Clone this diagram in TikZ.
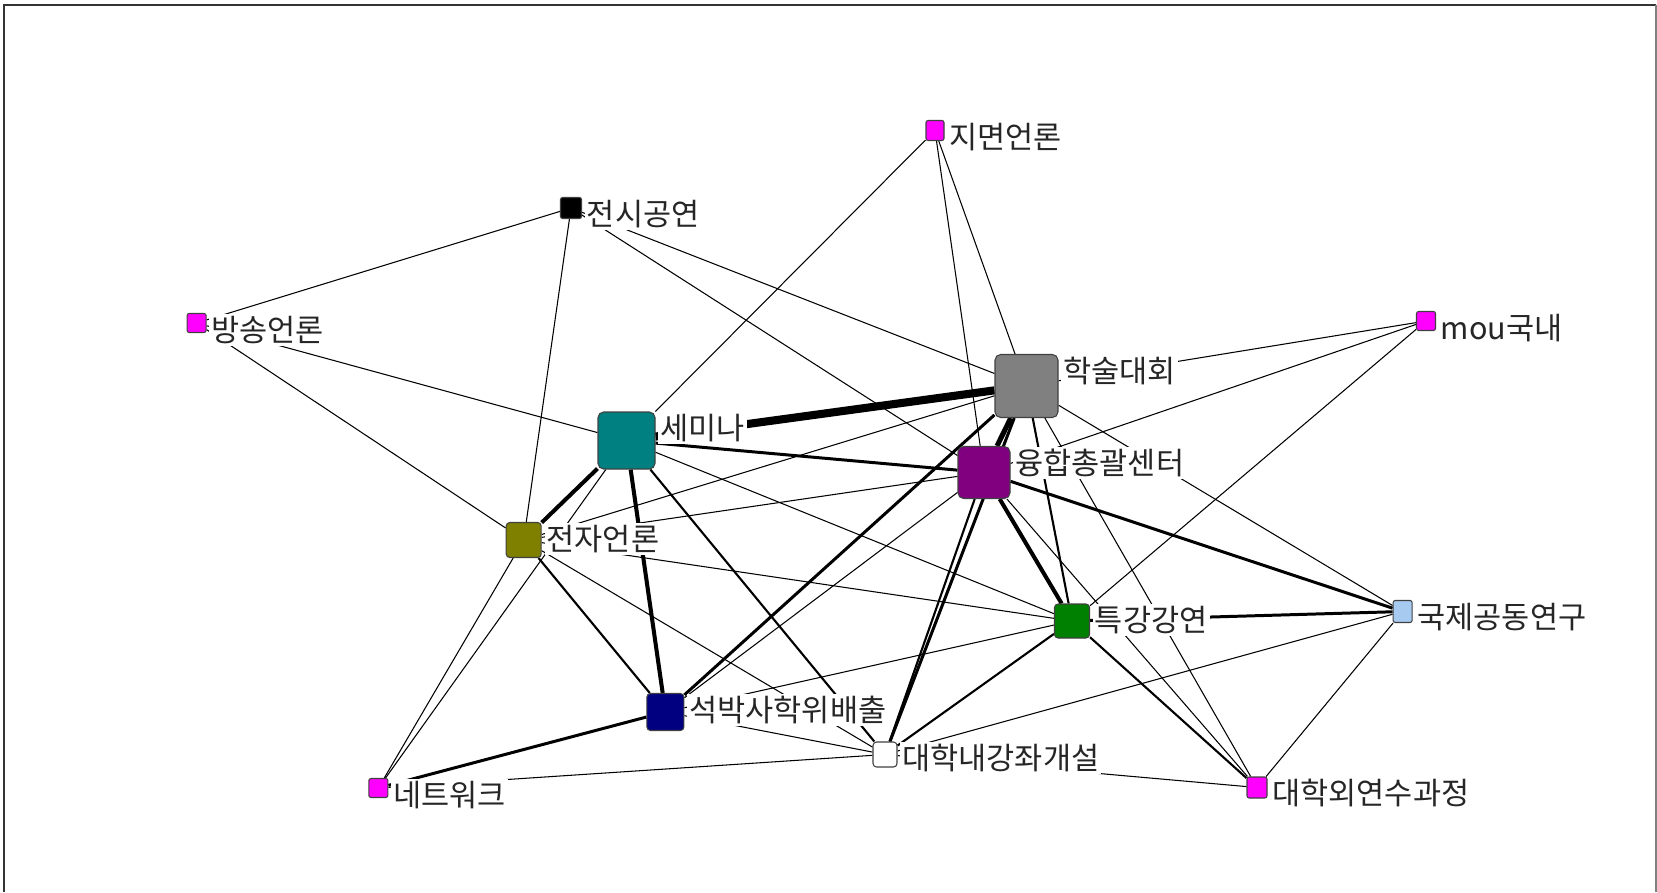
\documentclass[tikz,border=0pt]{standalone}
\usepackage{fontspec}
\newfontfamily\kofont{Noto Sans CJK KR}
\usetikzlibrary{positioning,backgrounds}
\definecolor{pinkish}{HTML}{FF00FF}
\definecolor{plum}{HTML}{800080}
\definecolor{olivegreen}{HTML}{808000}
\definecolor{tealblue}{HTML}{008080}
\definecolor{darkgreen}{HTML}{008000}
\definecolor{navyblue}{HTML}{000080}
\definecolor{lightblue}{HTML}{A6CAF0}

\tikzset{
  actor/.style={draw=black!75, line width=0.3pt, rounded corners=1.6pt, inner sep=0pt},
  smallactor/.style={actor, rounded corners=0.6pt, fill=pinkish},
  tag/.style={anchor=north west, fill=white, inner sep=0.6pt, text=black!85,
    font=\kofont\fontsize{8.7}{9}\selectfont},
  w1/.style={line width=0.3pt},
  w2/.style={line width=0.6pt},
  w3/.style={line width=0.85pt},
  w4/.style={line width=1.15pt},
  w5/.style={line width=1.45pt},
  w8/.style={line width=2.3pt}
}

\begin{document}
\begin{tikzpicture}[x=1cm,y=-1cm]
\useasboundingbox (0,0) rectangle (16.57,8.92);
\draw[black!80, line width=0.6pt] (0.04,8.92) -- (0.04,0.05) -- (16.56,0.05);
\draw[black!50, line width=0.4pt] (16.56,0.05) -- (16.56,8.92);

% actors
\node[smallactor, minimum width=0.18cm, minimum height=0.2cm] (jimyeon) at (9.35,1.305) {};
\node[actor, fill=black, rounded corners=0.6pt, minimum size=0.21cm] (jeonsi) at (5.71,2.08) {};
\node[smallactor, minimum size=0.19cm] (bangsong) at (1.966,3.23) {};
\node[smallactor, minimum size=0.19cm] (mou) at (14.26,3.21) {};
\node[actor, fill=gray, minimum size=0.63cm] (haksul) at (10.265,3.86) {};
\node[actor, fill=tealblue, minimum size=0.57cm] (semina) at (6.265,4.405) {};
\node[actor, fill=plum, minimum size=0.52cm] (yunghap) at (9.84,4.725) {};
\node[actor, fill=olivegreen, rounded corners=1pt, minimum size=0.35cm] (jeonja) at (5.237,5.40) {};
\node[actor, fill=darkgreen, rounded corners=1pt, minimum width=0.35cm, minimum height=0.34cm] (teukgang) at (10.72,6.21) {};
\node[actor, fill=lightblue, rounded corners=0.6pt, minimum width=0.19cm, minimum height=0.22cm] (gukje) at (14.026,6.115) {};
\node[actor, fill=navyblue, rounded corners=1pt, minimum size=0.37cm] (seokbak) at (6.654,7.12) {};
\node[actor, fill=white, rounded corners=1pt, minimum width=0.24cm, minimum height=0.25cm] (daenae) at (8.85,7.545) {};
\node[smallactor, minimum size=0.19cm] (network) at (3.784,7.88) {};
\node[smallactor, minimum width=0.2cm, minimum height=0.21cm] (daeoe) at (12.57,7.875) {};

% labels
\node[tag] (jimyeonL) at ([xshift=0.6pt]jimyeon.north east) {지면언론};
\node[tag] (jeonsiL) at ([xshift=0.6pt]jeonsi.north east) {전시공연};
\node[tag] (bangsongL) at ([xshift=0.6pt]bangsong.north east) {방송언론};
\node[tag] (mouL) at ([xshift=0.6pt]mou.north east) {mou국내};
\node[tag] (haksulL) at ([xshift=0.6pt]haksul.north east) {학술대회};
\node[tag] (seminaL) at ([xshift=0.6pt]semina.north east) {세미나};
\node[tag] (yunghapL) at ([xshift=0.6pt]yunghap.north east) {융합총괄센터};
\node[tag] (jeonjaL) at ([xshift=0.6pt]jeonja.north east) {전자언론};
\node[tag] (teukgangL) at ([xshift=0.6pt]teukgang.north east) {특강강연};
\node[tag] (gukjeL) at ([xshift=0.6pt]gukje.north east) {국제공동연구};
\node[tag] (seokbakL) at ([xshift=0.6pt]seokbak.north east) {석박사학위배출};
\node[tag] (daenaeL) at ([xshift=0.6pt]daenae.north east) {대학내강좌개설};
\node[tag] (networkL) at ([xshift=0.6pt]network.north east) {네트워크};
\node[tag] (daeoeL) at ([xshift=0.6pt]daeoe.north east) {대학외연수과정};

% ties, behind actors and labels
\begin{pgfonlayer}{background}
\foreach \a/\b in {bangsong/jeonsi, bangsong/semina, bangsong/jeonja, jeonsi/jeonja,
    jeonsi/haksul, jeonsi/yunghap, jimyeon/semina, jimyeon/haksul, jimyeon/yunghap,
    mou/haksul, mou/yunghap, mou/teukgang, haksul/jeonja, haksul/daeoe, haksul/gukje,
    semina/teukgang, semina/network, yunghap/jeonja, yunghap/seokbak, yunghap/daeoe,
    jeonja/teukgang, jeonja/daenae, jeonja/network, seokbak/teukgang, seokbak/daenae,
    daenae/network, daenae/daeoe, daenae/gukje, gukje/daeoe}
  \draw[w1] (\a) -- (\b);
\foreach \a/\b in {haksul/teukgang, semina/daenae, yunghap/daenae, jeonja/seokbak,
    daenae/teukgang, teukgang/daeoe}
  \draw[w2] (\a) -- (\b);
\foreach \a/\b in {haksul/seokbak, haksul/daenae, semina/yunghap, yunghap/gukje,
    seokbak/network, teukgang/gukje}
  \draw[w3] (\a) -- (\b);
\draw[w4] (semina) -- (jeonja);
\draw[w4] (semina) -- (seokbak);
\draw[w4] (yunghap) -- (teukgang);
\draw[w5] (haksul) -- (yunghap);
\draw[w8] (semina) -- (haksul);
\end{pgfonlayer}
\end{tikzpicture}
\end{document}
